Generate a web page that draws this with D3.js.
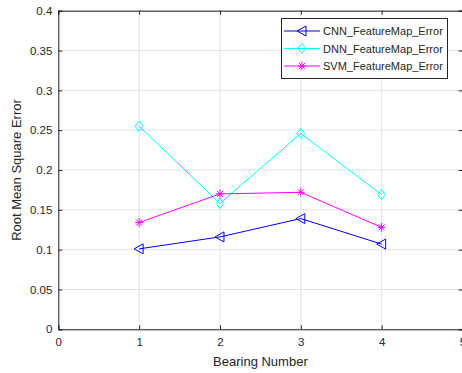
<!doctype html>
<html lang='en'>
  <head>
    <meta charset='utf-8' />
    <style>
      * { padding: 0; margin: 0; }
      body { background: #fff; font-family: 'Liberation Sans', Arial, sans-serif; }
      svg { display: block; }
    </style>
  </head>
  <body>
    <div id='container'></div>
    <script src='https://d3js.org/d3.v7.min.js'></script>
    <script type='text/javascript'>

      var bearings = [1, 2, 3, 4];
      var cnnError = [0.101, 0.116, 0.139, 0.107];
      var dnnError = [0.255, 0.158, 0.246, 0.169];
      var svmError = [0.134, 0.170, 0.172, 0.128];
      var seriesNames = ['CNN_FeatureMap_Error', 'DNN_FeatureMap_Error', 'SVM_FeatureMap_Error'];
      var xTicks = [0, 1, 2, 3, 4, 5];
      var yTicks = [0, 0.05, 0.1, 0.15, 0.2, 0.25, 0.3, 0.35, 0.4];

      const W = 462, H = 373;
      const pLeft = 58.3, pRight = 462.5, pTop = 10.7, pBottom = 329.3;
      const textCol = '#262626';

      var svg = d3.select('#container').append('svg')
          .attr('width', W)
          .attr('height', H);

      var x = d3.scaleLinear().domain([0, 5]).range([pLeft, pRight]);
      var y = d3.scaleLinear().domain([0, 0.4]).range([pBottom, pTop]);

      // grid
      var grid = svg.append('g').attr('stroke', '#e3e3e3').attr('stroke-width', 1);
      xTicks.forEach(function(t) {
        grid.append('line').attr('x1', x(t)).attr('x2', x(t)).attr('y1', pTop).attr('y2', pBottom);
      });
      yTicks.forEach(function(t) {
        grid.append('line').attr('x1', pLeft).attr('x2', pRight).attr('y1', y(t)).attr('y2', y(t));
      });

      // axes
      var fmt = function(d) { return String(+d.toFixed(2)); };
      var axB = svg.append('g').attr('transform', 'translate(0,' + pBottom + ')')
        .call(d3.axisBottom(x).tickValues(xTicks).tickSize(-4).tickPadding(9).tickFormat(fmt));
      var axL = svg.append('g').attr('transform', 'translate(' + pLeft + ',0)')
        .call(d3.axisLeft(y).tickValues(yTicks).tickSize(-4).tickPadding(6).tickFormat(fmt));
      var axT = svg.append('g').attr('transform', 'translate(0,' + pTop + ')')
        .call(d3.axisTop(x).tickValues(xTicks).tickSize(-4).tickFormat(''));
      var axR = svg.append('g').attr('transform', 'translate(' + pRight + ',0)')
        .call(d3.axisRight(y).tickValues(yTicks).tickSize(-4).tickFormat(''));
      [axB, axL, axT, axR].forEach(function(a) {
        a.select('.domain').attr('stroke', textCol).attr('stroke-width', 1);
        a.selectAll('.tick line').attr('stroke', textCol);
        a.selectAll('.tick text').attr('fill', textCol).style('font-size', '11.5px')
          .style('font-family', "'Liberation Sans', Arial, sans-serif");
      });

      svg.append('text')
        .attr('x', (pLeft + pRight) / 2).attr('y', 366)
        .attr('text-anchor', 'middle').attr('fill', textCol)
        .style('font-size', '13px').text('Bearing Number');
      svg.append('text')
        .attr('transform', 'translate(21,' + ((pTop + pBottom) / 2) + ') rotate(-90)')
        .attr('text-anchor', 'middle').attr('fill', textCol)
        .style('font-size', '13px').text('Root Mean Square Error');

      // markers
      function drawMarker(g, type, color) {
        if (type === 'tri') {
          g.append('path').attr('d', 'M-5,0L4,-5L4,5Z').attr('fill', 'none').attr('stroke', color);
        } else if (type === 'dia') {
          g.append('path').attr('d', 'M0,-5L4,0L0,5L-4,0Z').attr('fill', 'none').attr('stroke', color);
        } else {
          g.append('path').attr('d', 'M-4,0L4,0M0,-4.5L0,4.5M-3,-3L3,3M-3,3L3,-3')
            .attr('fill', 'none').attr('stroke', color);
        }
      }

      var series = [
        { name: seriesNames[0], values: cnnError, color: '#0000ff', marker: 'tri' },
        { name: seriesNames[1], values: dnnError, color: '#00ffff', marker: 'dia' },
        { name: seriesNames[2], values: svmError, color: '#ff00ff', marker: 'star' }
      ];

      var line = d3.line().x(function(d, i) { return x(bearings[i]); }).y(function(d) { return y(d); });

      series.forEach(function(s) {
        svg.append('path').datum(s.values)
          .attr('d', line).attr('fill', 'none').attr('stroke', s.color).attr('stroke-width', 1);
        s.values.forEach(function(v, i) {
          var g = svg.append('g').attr('transform', 'translate(' + x(bearings[i]) + ',' + y(v) + ')');
          drawMarker(g, s.marker, s.color);
        });
      });

      // legend
      var lg = svg.append('g');
      lg.append('rect').attr('x', 281.5).attr('y', 18.5).attr('width', 166).attr('height', 60)
        .attr('fill', '#fff').attr('stroke', textCol).attr('stroke-width', 1);
      series.forEach(function(s, i) {
        var yy = 31 + i * 17.5;
        lg.append('line').attr('x1', 284).attr('x2', 320).attr('y1', yy).attr('y2', yy)
          .attr('stroke', s.color);
        drawMarker(lg.append('g').attr('transform', 'translate(302,' + yy + ')'), s.marker, s.color);
        lg.append('text').attr('x', 323).attr('y', yy + 4).attr('fill', textCol)
          .style('font-size', '11px').text(s.name);
      });
    </script>
  </body>
</html>
